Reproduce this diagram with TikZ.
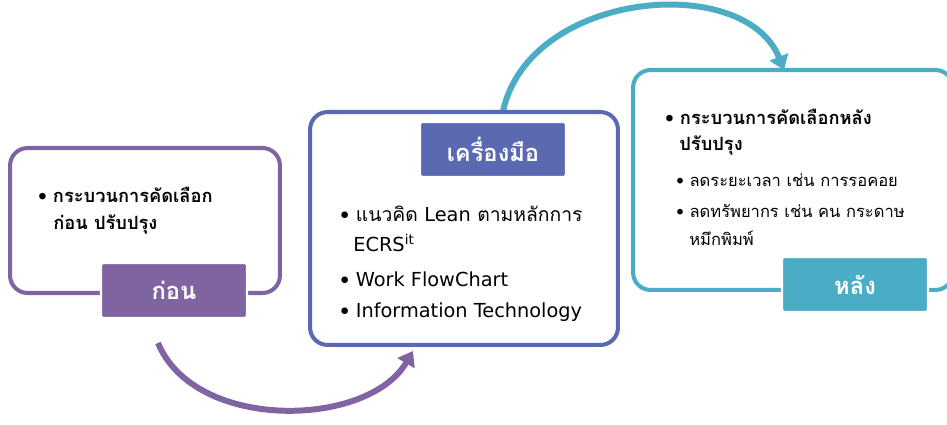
\documentclass[tikz,border=0pt]{standalone}
\usepackage{fontspec}
\setmainfont[Script=Thai]{Loma}
\newfontfamily\latin{DejaVu Sans}
\usetikzlibrary{arrows.meta}
\definecolor{before}{HTML}{8064A2}
\definecolor{tool}{HTML}{5B68B2}
\definecolor{after}{HTML}{4BACC6}

\begin{document}
\begin{tikzpicture}[
    x=0.02cm, y=-0.02cm,
    every node/.style={font=\fontsize{11}{13}\selectfont},
    frame/.style={draw, line width=2.3pt, rounded corners=10pt, fill=white},
    tag/.style={draw=white, line width=1.2pt, rounded corners=1pt, text=white,
                minimum width=2.92cm, minimum height=1.1cm,
                font=\bfseries\fontsize{13.5}{16}\selectfont},
    item/.style={anchor=west, inner sep=0pt},
    head/.style={item, font=\bfseries\fontsize{10.4}{13}\selectfont},
    sub/.style={item, font=\fontsize{9.4}{12}\selectfont},
    arc/.style={line width=3.4pt, -{Triangle[length=8pt, width=11pt]}}
]
\useasboundingbox (0,0) rectangle (947,425);

\coordinate (s1) at (158,343);
\coordinate (e1) at (413,351);
\coordinate (s2) at (503,111);
\coordinate (e2) at (784,70);
\draw[arc, before] (s1) .. controls (195,432) and (368,428) .. (e1);
\draw[arc, after] (s2) .. controls (530,-10) and (745,-28) .. (e2);

\node[frame, draw=before, minimum width=5.4cm, minimum height=2.9cm] (pre) at (145,220.5) {};
\node[frame, draw=tool, minimum width=6.16cm, minimum height=4.66cm] (mid) at (464,228.5) {};
\node[frame, draw=after, minimum width=6.4cm, minimum height=4.4cm] (post) at (793,180) {};

\node[tag, fill=before] (pretag) at (174,290.5) {ก่อน};
\node[tag, fill=tool] (midtag) at (493,149.5) {เครื่องมือ};
\node[tag, fill=after] (posttag) at (855,284.5) {หลัง};

\node[head] (pre1) at (38,195) {\textbullet\ กระบวนการคัดเลือก};
\node[head] (pre2) at (53,225) {ก่อน ปรับปรุง};

\node[item] (mid1) at (340,214) {\textbullet\ แนวคิด {\latin Lean} ตามหลักการ};
\node[item] (mid2) at (353,243) {\latin ECRS\textsuperscript{it}};
\node[item] (mid3) at (340,279) {\textbullet\ {\latin Work FlowChart}};
\node[item] (mid4) at (340,312) {\textbullet\ {\latin Information Technology}};

\node[head] (post1) at (665,117) {\textbullet\ กระบวนการคัดเลือกหลัง};
\node[head] (post2) at (679,146) {ปรับปรุง};
\node[sub] (post3) at (676,180) {\textbullet\ ลดระยะเวลา เช่น การรอคอย};
\node[sub] (post4) at (676,211) {\textbullet\ ลดทรัพยากร เช่น คน กระดาษ};
\node[sub] (post5) at (689,238) {หมึกพิมพ์};
\end{tikzpicture}
\end{document}
